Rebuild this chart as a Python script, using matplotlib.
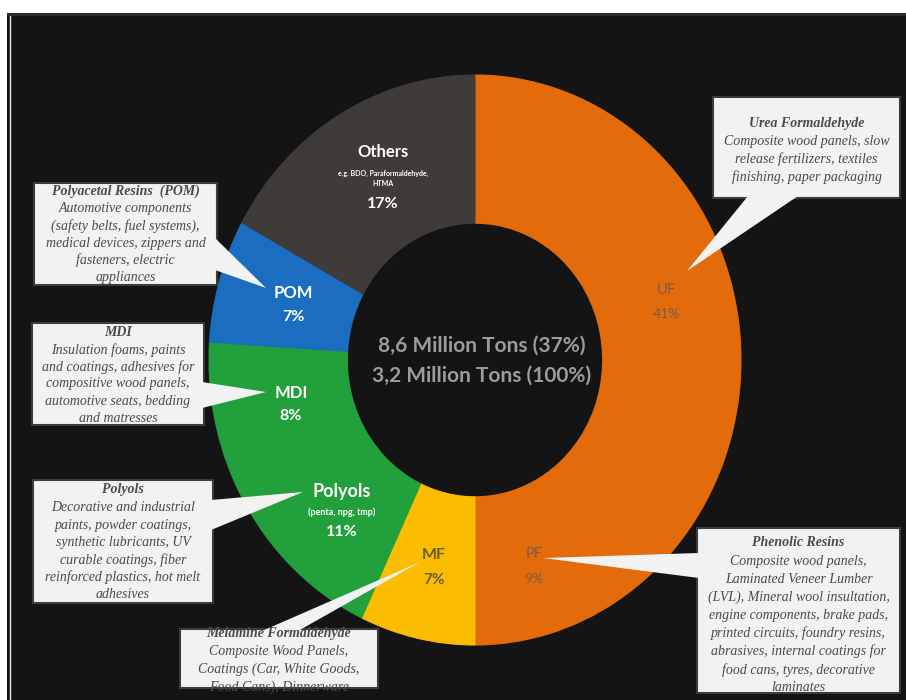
import matplotlib
matplotlib.use("Agg")
import matplotlib.pyplot as plt
from matplotlib.patches import Rectangle, Polygon

W, H = 906, 700

# formaldehyde end uses, share of consumption (%)
segments = ['UF', 'PF', 'MF', 'Polyols', 'MDI', 'POM', 'Others']
shares = [41, 9, 7, 11, 8, 7, 17]
colors = ['#e36b0c', '#e36b0c', '#fcbc00', '#22a03c', '#22a03c', '#1a6dbf', '#3e3b39']
sub_text = {'Polyols': '(penta, npg, tmp)',
            'Others': 'e.g. BDO, Paraformaldehyde,\nHTMA'}
center_lines = ['8,6 Million Tons (37%)', '3,2 Million Tons (100%)']

uf_note = ['Urea Formaldehyde', 'Composite wood panels, slow',
           'release fertilizers, textiles', 'finishing, paper packaging']
pom_note = ['Polyacetal Resins  (POM)', 'Automotive components',
            '(safety belts, fuel systems),', 'medical devices, zippers and',
            'fasteners, electric', 'appliances']
mdi_note = ['MDI', 'Insulation foams, paints', 'and coatings, adhesives for',
            'compositive wood panels,', 'automotive seats, bedding',
            'and matresses']
polyols_note = ['Polyols', 'Decorative and industrial', 'paints, powder coatings,',
                'synthetic lubricants, UV', 'curable coatings, fiber',
                'reinforced plastics, hot melt', 'adhesives']
mf_note = ['Melamine Formaldehyde', 'Composite Wood Panels,',
           'Coatings (Car, White Goods,', 'Food Cans), Dinnerware']
pf_note = ['Phenolic Resins', 'Composite wood panels,', 'Laminated Veneer Lumber',
           '(LVL), Mineral wool insultation,', 'engine components, brake pads,',
           'printed circuits, foundry resins,', 'abrasives, internal coatings for',
           'food cans, tyres, decorative', 'laminates']

fig = plt.figure(figsize=(W / 100, H / 100), dpi=100)
fig.patch.set_facecolor('white')

# dark panel behind everything
bg = fig.add_axes([0, 0, 1, 1], zorder=0)
bg.set_xlim(0, W)
bg.set_ylim(H, 0)
bg.axis('off')
bg.add_patch(Rectangle((7, 13), W - 7, H - 13, color='#141414', lw=0))
bg.add_patch(Rectangle((7, 13), W - 7, 3, color='#2c2829', lw=0))
bg.plot([10, 10], [16, H], color='#e8e8e8', lw=1)

# donut, slightly taller than wide
cx, cy, rx, ry = 475, 360, 266, 285
ax = fig.add_axes([(cx - rx) / W, (H - cy - ry) / H, 2 * rx / W, 2 * ry / H], zorder=1)
wedges, _ = ax.pie(shares, colors=colors, startangle=90, counterclock=False,
                   wedgeprops=dict(width=0.52))
for w, c in zip(wedges, colors):
    w.set_edgecolor(c)
    w.set_linewidth(0.8)
ax.set_aspect('auto')
ax.set_xlim(-1, 1)
ax.set_ylim(-1, 1)
ax.axis('off')

ov = fig.add_axes([0, 0, 1, 1], zorder=2)
ov.set_xlim(0, W)
ov.set_ylim(H, 0)
ov.axis('off')
ov.patch.set_alpha(0)

sans = 'Lato'
pct = dict(zip(segments, shares))

def slice_label(name, x, y, color, fs, fs_pct, gap, weight='bold', sub_y=None, fs_sub=6.5):
    ov.text(x, y, name, color=color, fontsize=fs, fontweight=weight,
            family=sans, ha='center', va='center')
    if name in sub_text:
        ov.text(x, sub_y, sub_text[name], color=color, fontsize=fs_sub, fontweight='bold',
                family=sans, ha='center', va='center', linespacing=1.5)
    ov.text(x, y + gap, f'{pct[name]}%', color=color, fontsize=fs_pct, fontweight=weight,
            family=sans, ha='center', va='center')

slice_label('UF', 666, 290, '#7b5c48', 10.5, 10, 24, weight='normal')
slice_label('PF', 534, 554, '#7b5c48', 10.5, 10, 25, weight='normal')
slice_label('MF', 434, 555, '#6d5c2c', 11.5, 11, 25)
slice_label('Polyols', 342, 491, 'white', 13, 11.5, 41, sub_y=512, fs_sub=6.5)
slice_label('MDI', 291, 393, 'white', 12, 11.5, 23)
slice_label('POM', 293, 293, 'white', 12, 11.5, 24)
slice_label('Others', 383, 152, 'white', 12, 11.5, 52, sub_y=178, fs_sub=5)

for text, y in zip(center_lines, [346, 376]):
    ov.text(482, y, text, color='#9c9c9c', fontsize=15, fontweight='bold',
            family=sans, ha='center', va='center')

def callout(lines, box, y0, step, pointer, clip=False):
    x0, y_top, x1, y_bot = box
    rect = Rectangle((x0, y_top), x1 - x0, y_bot - y_top, facecolor='#f2f2f2',
                     edgecolor='#3c3c3c', lw=1.5, zorder=3)
    ov.add_patch(rect)
    ov.add_patch(Polygon(pointer, closed=True, facecolor='#f2f2f2', lw=0, zorder=4))
    xc = (x0 + x1) / 2
    for i, line in enumerate(lines):
        t = ov.text(xc, y0 + i * step, line, color='#4a4a4a', fontsize=10,
                    style='italic', fontweight='bold' if i == 0 else 'normal',
                    family='Liberation Serif', ha='center', va='center', zorder=5)
        if clip:
            t.set_clip_path(rect)

callout(uf_note, (713, 97, 900, 198), 123, 18,
        [(748, 196), (798, 196), (687, 271)])
callout(pom_note, (34, 183, 217, 285), 191, 17.4,
        [(215, 238), (215, 270), (266, 288)])
callout(mdi_note, (32, 323, 204, 425), 333, 17,
        [(202, 382), (202, 408), (266, 392)])
callout(polyols_note, (33, 480, 213, 603), 490, 17.5,
        [(211, 500), (211, 530), (303, 492)])
callout(mf_note, (180, 629, 378, 688), 633, 18,
        [(262, 631), (298, 631), (420, 562)], clip=True)
callout(pf_note, (697, 528, 900, 693), 543, 18.1,
        [(699, 553), (699, 578), (543, 558)])

fig.savefig('out.png', dpi=100, facecolor='white')
